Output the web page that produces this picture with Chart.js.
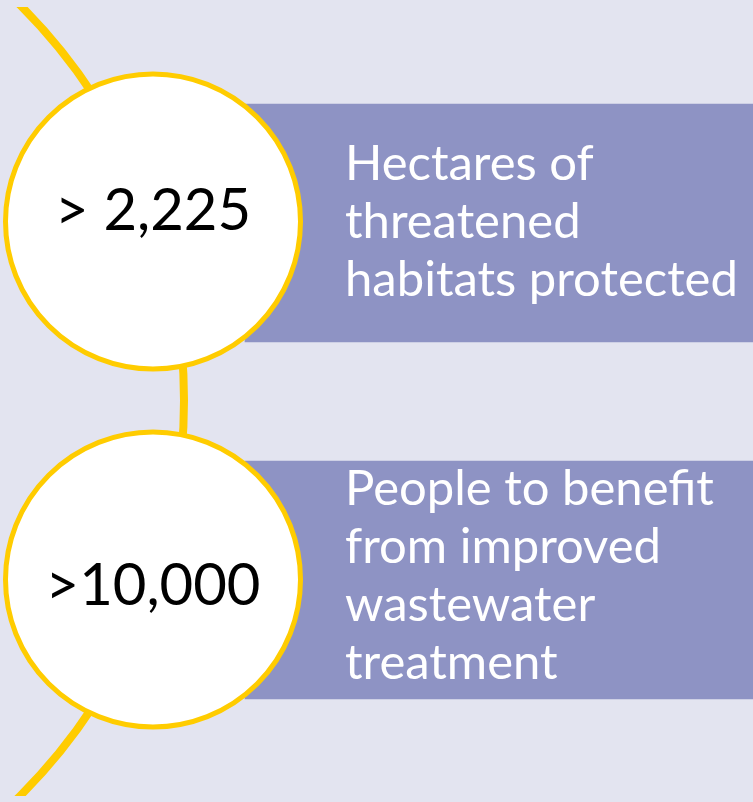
<!DOCTYPE html>
<html>
<head>
<meta charset="utf-8">
<script src="https://cdn.jsdelivr.net/npm/chart.js@4.4.1/dist/chart.umd.min.js"></script>
<style>
  html, body { margin: 0; padding: 0; background: #E3E4F0; overflow: hidden; }
  canvas { display: block; }
</style>
</head>
<body>
<canvas id="c" width="753" height="802"></canvas>
<script>
// ---- data ----
const figures = ['> 2,225', '>10,000'];
const descriptions = [
  ['Hectares of', 'threatened', 'habitats protected'],
  ['People to benefit', 'from improved', 'wastewater', 'treatment']
];
// item centre rows (page units)
const itemRows = [221.5, 579.5];
const panelRows = [223, 580];

// ---- layout / style ----
const W = 753, H = 802;
const BG = '#E3E4F0', PURPLE = '#8E93C4', GOLD = '#FFCC00';
const circleX = 153, circleR = 147.5;
const panelFrom = 245, panelTo = 753, panelThick = 238;
const arcCenter = { x: -375, y: 400.5 }, arcR = 559;
const figureBaselines = [230, 605];
const textLeft = 345, firstBaselines = [180, 505], lineGap = 58;

const bgPlugin = {
  id: 'bg',
  beforeDraw(chart) {
    const ctx = chart.ctx;
    ctx.save();
    ctx.fillStyle = BG;
    ctx.fillRect(0, 0, chart.width, chart.height);
    ctx.restore();
  }
};

const textPlugin = {
  id: 'texts',
  afterDatasetsDraw(chart) {
    const ctx = chart.ctx;
    const xs = chart.scales.x, ys = chart.scales.y;
    ctx.save();
    ctx.textBaseline = 'alphabetic';
    ctx.fillStyle = '#000000';
    ctx.textAlign = 'center';
    ctx.font = '58px Lato';
    figures.forEach((t, i) => {
      ctx.fillText(t, xs.getPixelForValue(circleX), ys.getPixelForValue(figureBaselines[i]));
    });
    ctx.fillStyle = '#FFFFFF';
    ctx.textAlign = 'left';
    ctx.font = '49px Lato';
    descriptions.forEach((lines, i) => {
      lines.forEach((ln, j) => {
        ctx.fillText(ln, xs.getPixelForValue(textLeft), ys.getPixelForValue(firstBaselines[i] + j * lineGap));
      });
    });
    ctx.restore();
  }
};

new Chart(document.getElementById('c'), {
  type: 'bubble',
  data: {
    datasets: [
      {
        type: 'bubble',
        label: 'arc',
        order: 3,
        data: [{ x: arcCenter.x, y: arcCenter.y, r: arcR }],
        backgroundColor: 'rgba(0,0,0,0)',
        borderColor: GOLD,
        borderWidth: 8,
        hoverBorderWidth: 8,
        clip: { left: 0, top: -7, right: 0, bottom: -6 }
      },
      {
        type: 'bar',
        label: 'panels',
        order: 2,
        indexAxis: 'y',
        data: panelRows.map(y => ({ y: y, x: [panelFrom, panelTo] })),
        backgroundColor: PURPLE,
        borderWidth: 0,
        barThickness: panelThick,
        grouped: false
      },
      {
        type: 'bubble',
        label: 'circles',
        order: 1,
        data: itemRows.map(y => ({ x: circleX, y: y, r: circleR })),
        backgroundColor: '#FFFFFF',
        borderColor: GOLD,
        borderWidth: 5,
        hoverBorderWidth: 5
      }
    ]
  },
  options: {
    responsive: false,
    animation: false,
    devicePixelRatio: 1,
    events: [],
    layout: { padding: 0, autoPadding: false },
    plugins: { legend: { display: false }, tooltip: { enabled: false } },
    scales: {
      x: { type: 'linear', min: 0, max: W, offset: false, grace: 0, display: false },
      y: { type: 'linear', min: 0, max: H, reverse: true, offset: false, grace: 0, display: false }
    }
  },
  plugins: [bgPlugin, textPlugin]
});
</script>
</body>
</html>
